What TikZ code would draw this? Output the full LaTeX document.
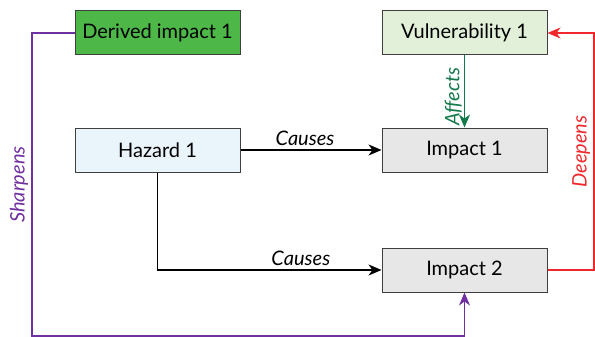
\documentclass[tikz,border=0pt]{standalone}
\usepackage{fontspec}
\setmainfont{Lato}
\usetikzlibrary{arrows.meta}

\definecolor{boxline}{HTML}{3F3F3F}
\definecolor{derivedfill}{HTML}{4DB848}
\definecolor{vulnfill}{HTML}{E2EFD9}
\definecolor{hazardfill}{HTML}{EAF5FB}
\definecolor{impactfill}{HTML}{E7E7E8}
\definecolor{affectgreen}{HTML}{13784A}
\definecolor{sharppurple}{HTML}{7030A0}
\definecolor{deepred}{HTML}{F0282D}

\begin{document}
\begin{tikzpicture}[x=1pt, y=-1pt,
    box/.style={draw=boxline, line width=1pt, minimum width=165pt, minimum height=44pt,
                inner sep=0pt, font=\fontsize{20}{23}\selectfont},
    link/.style={line width=1.2pt, -{Stealth[length=13pt, width=11pt, inset=4pt]}},
    lab/.style={font=\fontsize{20}{23}\selectfont\itshape}]
  \useasboundingbox (0,0) rectangle (595,337);
  % boxes
  \node[box, fill=derivedfill] (dimp) at (157.5,33) {Derived impact 1};
  \node[box, fill=vulnfill] (vuln) at (464.5,33) {Vulnerability 1};
  \node[box, fill=hazardfill] (haz) at (157.5,150) {Hazard 1};
  \node[box, fill=impactfill] (imp1) at (464.5,150) {Impact 1};
  \node[box, fill=impactfill] (imp2) at (464.5,270) {Impact 2};
  % corner points
  \coordinate (sl) at (32,336);
  \coordinate (dr) at (594,33);
  % links
  \draw[link] (haz) -- node[lab, above, xshift=-6pt] {Causes} (imp1);
  \draw[link] (haz.south) |- node[lab, above, pos=0.82] {Causes} (imp2.west);
  \draw[link, affectgreen] (vuln) -- node[lab, rotate=90, above, pos=0.57, inner sep=2pt] {Affects} (imp1);
  \draw[link, sharppurple] (dimp.west) -| node[lab, rotate=90, above, pos=0.75] {Sharpens} (sl) -| (imp2.south);
  \draw[link, deepred] (imp2.east) -| node[lab, rotate=90, above, pos=0.75] {Deepens} (dr) -- (vuln.east);
\end{tikzpicture}
\end{document}
